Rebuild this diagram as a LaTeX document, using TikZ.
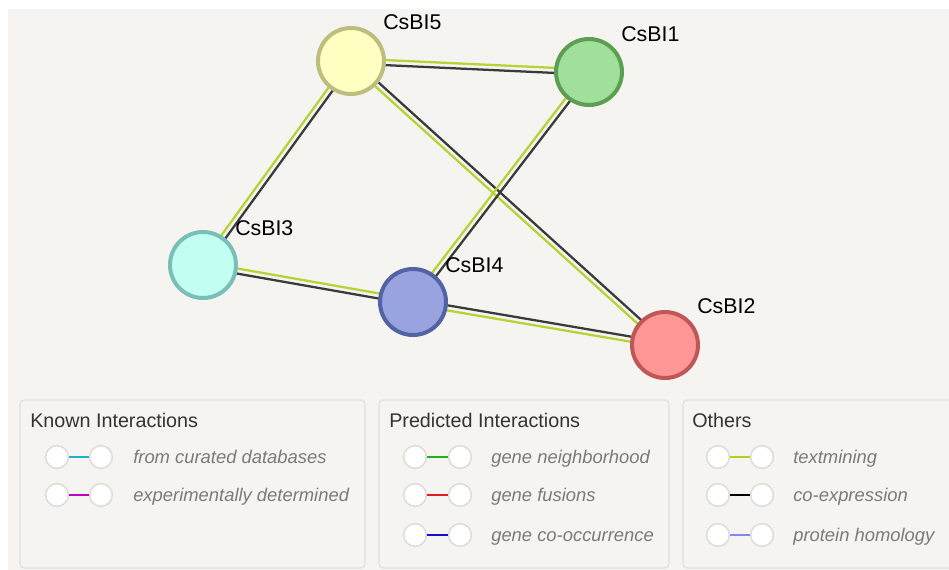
\documentclass[tikz,border=0pt]{standalone}
\usepackage{fontspec}
\setmainfont{Liberation Sans}
\usetikzlibrary{calc}

\definecolor{panelbg}{HTML}{F5F4F1}
\definecolor{boxedge}{HTML}{DEDDDA}
\definecolor{tmgreen}{HTML}{B5D334}
\definecolor{coexgrey}{HTML}{3A3A3A}
\definecolor{legtext}{HTML}{7A7A7A}
\definecolor{legtitle}{HTML}{333333}
% protein colours
\definecolor{p5edge}{HTML}{BDBD7E} \definecolor{p5fill}{HTML}{FFFFC2}
\definecolor{p1edge}{HTML}{5C9E52} \definecolor{p1fill}{HTML}{A0E09A}
\definecolor{p3edge}{HTML}{7ABFB7} \definecolor{p3fill}{HTML}{C2FFF2}
\definecolor{p4edge}{HTML}{5263A3} \definecolor{p4fill}{HTML}{98A3E0}
\definecolor{p2edge}{HTML}{C05757} \definecolor{p2fill}{HTML}{FF9696}
% legend line colours
\definecolor{curated}{HTML}{1FAFCF}
\definecolor{experim}{HTML}{C000C0}
\definecolor{neighb}{HTML}{1FB01F}
\definecolor{fusion}{HTML}{E01E1E}
\definecolor{cooccur}{HTML}{1010D0}
\definecolor{textmin}{HTML}{B0CF1F}
\definecolor{homol}{HTML}{8A84F2}

% two coloured lines per interaction
\newcommand{\netedge}[2]{%
    \draw[tmline] ($(#1)!1.9pt!90:(#2)$) -- ($(#2)!1.9pt!-90:(#1)$);
    \draw[coexline] ($(#1)!1.9pt!-90:(#2)$) -- ($(#2)!1.9pt!90:(#1)$);}

\begin{document}
\begin{tikzpicture}[x=0.75pt, y=-0.75pt,
    protein/.style={circle, line width=3pt, minimum size=49.5pt, inner sep=0pt},
    plabel/.style={anchor=west, inner sep=0pt, font=\fontsize{16}{19}\selectfont},
    tmline/.style={line width=1.7pt, tmgreen},
    coexline/.style={line width=1.7pt, coexgrey},
    legbox/.style={draw=boxedge, fill=panelbg, rounded corners=3pt, line width=0.8pt},
    legtitle/.style={anchor=mid west, yshift=-2.5pt, inner sep=0pt, text=legtitle, font=\fontsize{14.8}{17}\selectfont},
    legitem/.style={anchor=mid west, yshift=-2.5pt, inner sep=0pt, text=legtext, font=\fontsize{13.8}{16}\selectfont\itshape},
    knob/.style={circle, draw=boxedge, fill=white, line width=1.2pt, minimum size=17pt, inner sep=0pt},
    knobline/.style={line width=2.2pt}]

    \useasboundingbox (0,0) rectangle (949,570);
    \fill[panelbg] (8,9) rectangle (949,570);

    % Proteins
    \coordinate (p5) at (351,61);
    \coordinate (p1) at (589,72);
    \coordinate (p3) at (203,265);
    \coordinate (p4) at (413,302);
    \coordinate (p2) at (665,345);

    % Interactions
    \netedge{p5}{p1}
    \netedge{p3}{p5}
    \netedge{p2}{p5}
    \netedge{p4}{p1}
    \netedge{p3}{p4}
    \netedge{p2}{p4}

    \node[protein, draw=p5edge, fill=p5fill] (CsBI5) at (p5) {};
    \node[protein, draw=p1edge, fill=p1fill] (CsBI1) at (p1) {};
    \node[protein, draw=p3edge, fill=p3fill] (CsBI3) at (p3) {};
    \node[protein, draw=p4edge, fill=p4fill] (CsBI4) at (p4) {};
    \node[protein, draw=p2edge, fill=p2fill] (CsBI2) at (p2) {};

    % Labels
    \node[plabel] (l5) at (383,22) {CsBI5};
    \node[plabel] (l1) at (621,34) {CsBI1};
    \node[plabel] (l3) at (235,228) {CsBI3};
    \node[plabel] (l4) at (445,265) {CsBI4};
    \node[plabel] (l2) at (697,306) {CsBI2};

    % Legend boxes
    \draw[legbox] (20,400) rectangle (365,568);
    \draw[legbox] (379,400) rectangle (669,568);
    \draw[legbox] (683,400) rectangle (960,568);

    \node[legtitle] (tknown) at (30,421) {Known Interactions};
    \node[legtitle] (tpred) at (389,421) {Predicted Interactions};
    \node[legtitle] (tother) at (692,421) {Others};

    % Known
    \node[knob] (ka1) at (57,457) {};  \node[knob] (kb1) at (101,457) {};
    \node[knob] (ka2) at (57,495) {};  \node[knob] (kb2) at (101,495) {};
    \draw[knobline, curated] (ka1) -- (kb1);
    \draw[knobline, experim] (ka2) -- (kb2);
    \node[legitem] (kt1) at (133,457) {from curated databases};
    \node[legitem] (kt2) at (133,495) {experimentally determined};

    % Predicted
    \node[knob] (pa1) at (415,457) {};  \node[knob] (pb1) at (460,457) {};
    \node[knob] (pa2) at (415,495) {};  \node[knob] (pb2) at (460,495) {};
    \node[knob] (pa3) at (415,535) {};  \node[knob] (pb3) at (460,535) {};
    \draw[knobline, neighb] (pa1) -- (pb1);
    \draw[knobline, fusion] (pa2) -- (pb2);
    \draw[knobline, cooccur] (pa3) -- (pb3);
    \node[legitem] (pt1) at (491,457) {gene neighborhood};
    \node[legitem] (pt2) at (491,495) {gene fusions};
    \node[legitem] (pt3) at (491,535) {gene co-occurrence};

    % Others
    \node[knob] (oa1) at (718,457) {};  \node[knob] (ob1) at (762,457) {};
    \node[knob] (oa2) at (718,495) {};  \node[knob] (ob2) at (762,495) {};
    \node[knob] (oa3) at (718,535) {};  \node[knob] (ob3) at (762,535) {};
    \draw[knobline, textmin] (oa1) -- (ob1);
    \draw[knobline, black] (oa2) -- (ob2);
    \draw[knobline, homol] (oa3) -- (ob3);
    \node[legitem] (ot1) at (793,457) {textmining};
    \node[legitem] (ot2) at (793,495) {co-expression};
    \node[legitem] (ot3) at (793,535) {protein homology};
\end{tikzpicture}
\end{document}
